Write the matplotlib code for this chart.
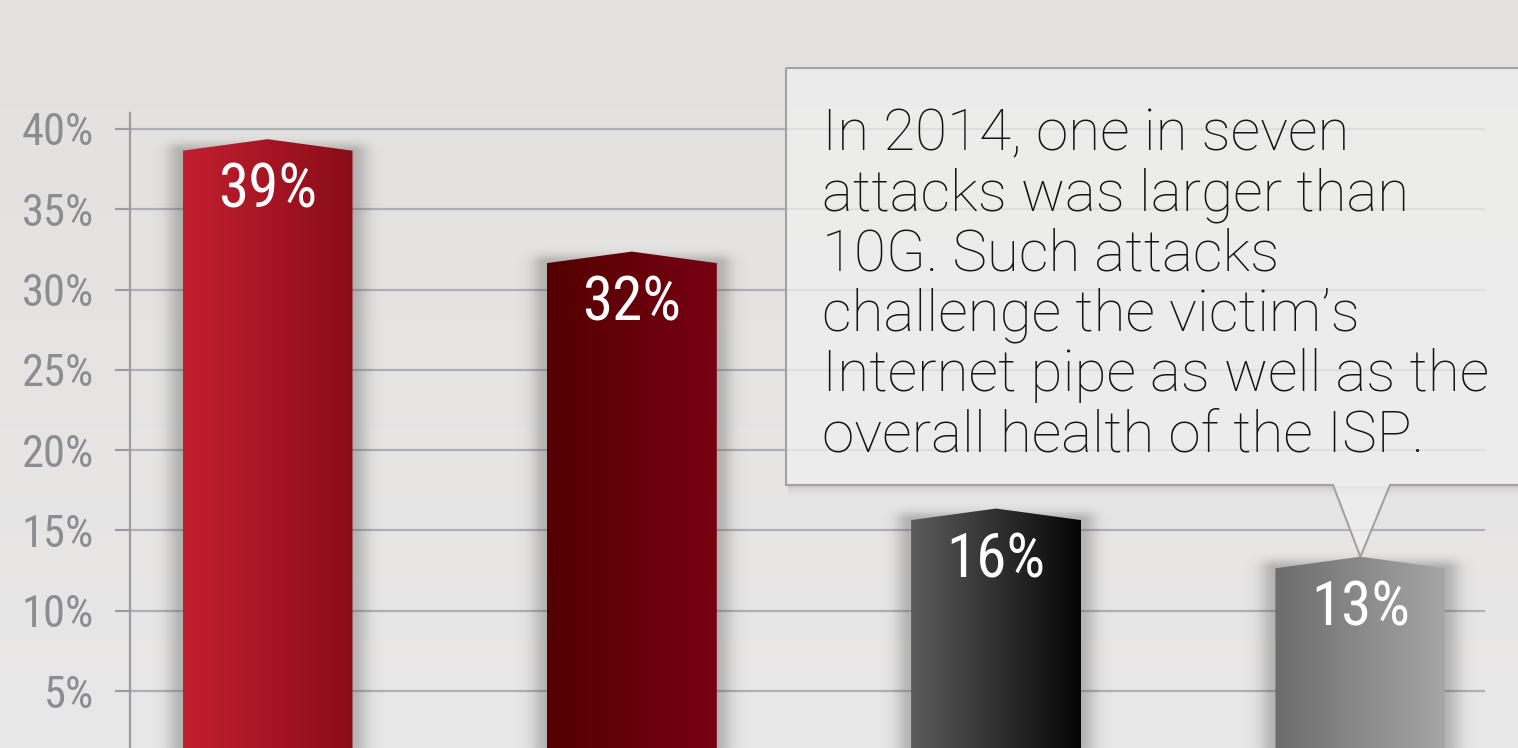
import numpy as np
import matplotlib
matplotlib.use("Agg")
import matplotlib.pyplot as plt
from matplotlib.patches import Polygon
from matplotlib.colors import LinearSegmentedColormap, to_rgb

# ---- data -------------------------------------------------------------
values = [39, 32, 16, 13]
value_labels = ["39%", "32%", "16%", "13%"]
bar_colors_left = ["#c21f2f", "#520002", "#5c5c5c", "#6c6c6c"]
bar_colors_right = ["#8a0c18", "#780010", "#050505", "#a6a6a6"]
ytick_values = [5, 10, 15, 20, 25, 30, 35, 40]
ytick_labels = ["5%", "10%", "15%", "20%", "25%", "30%", "35%", "40%"]
callout_lines = [
    "In 2014, one in seven",
    "attacks was larger than",
    "10G. Such attacks",
    "challenge the victim\u2019s",
    "Internet pipe as well as the",
    "overall health of the ISP.",
]

W, H = 1518, 748
DPI = 100
NARROW = ["Liberation Sans Narrow", "Roboto Condensed", "DejaVu Sans"]
LIGHT = ["Roboto", "Liberation Sans", "DejaVu Sans"]

fig = plt.figure(figsize=(W / DPI, H / DPI), dpi=DPI)

# soft grey page background
bg = fig.add_axes([0, 0, 1, 1], zorder=-10)
grad = np.linspace(0, 1, 256)[:, None]
top_c, bot_c = np.array(to_rgb("#e2e1df")), np.array(to_rgb("#e9e8e8"))
bg_img = top_c[None, None, :] * (1 - grad[..., None]) + bot_c[None, None, :] * grad[..., None]
bg.imshow(np.repeat(bg_img, 4, axis=1), aspect="auto", extent=[0, 1, 0, 1])
bg.set_axis_off()

# ---- main axes --------------------------------------------------------
ax_left, ax_right, ax_top = 130, 1485, 113
ax = fig.add_axes([ax_left / W, 0, (ax_right - ax_left) / W, (H - ax_top) / H], zorder=0)
ax.patch.set_alpha(0)

px_per_unit_y = 16.06
zero_px = 771.3
ybot = (zero_px - H) / px_per_unit_y
ytop = (zero_px - ax_top) / px_per_unit_y
px_per_unit_x = 364.3
xmin = -(267.5 - ax_left) / px_per_unit_x
xmax = xmin + (ax_right - ax_left) / px_per_unit_x

bar_width = 170 / px_per_unit_x
roof = 0.36  # half height of the pointed bar top

for s in ["top", "right", "bottom"]:
    ax.spines[s].set_visible(False)
ax.spines["left"].set_color("#9a9ca0")
ax.spines["left"].set_linewidth(1.6)

ax.set_yticks(ytick_values)
ax.set_yticklabels(ytick_labels)
ax.set_xticks([])
ax.tick_params(axis="y", length=10.8, width=1.5, color="#9a9ca0", pad=15,
               labelsize=32, labelcolor="#8b8d91")
for lab in ax.get_yticklabels():
    lab.set_fontfamily(NARROW)
ax.set_axisbelow(True)
ax.yaxis.grid(True, color="#aeb0b3", linewidth=1.6)

x_pos = np.arange(len(values))

for i, (xc, v) in enumerate(zip(x_pos, values)):
    x0, x1 = xc - bar_width / 2, xc + bar_width / 2

    # soft drop shadow around the bar, mostly along its sides
    pad_px = 40
    sx, sy = pad_px / px_per_unit_x, pad_px / px_per_unit_y
    nx, ny = 260, 400
    gx = np.linspace(-(bar_width / 2 + sx), bar_width / 2 + sx, nx) * px_per_unit_x
    gy = np.linspace(ybot, v + roof + sy, ny)
    GX, GY = np.meshgrid(gx, gy)
    half_w_px = bar_width / 2 * px_per_unit_x
    dx = np.clip(np.abs(GX) - half_w_px, 0, None)
    dy = np.clip((GY - (v - roof)) * px_per_unit_y, 0, None) * 1.8
    d = np.hypot(dx, dy)
    alpha = 0.32 * np.exp(-(d / 15.0) ** 2)
    shadow = np.zeros((ny, nx, 4))
    shadow[..., :3] = 0.28
    shadow[..., 3] = alpha
    ax.imshow(shadow, extent=[x0 - sx, x1 + sx, ybot, v + roof + sy],
              origin="lower", aspect="auto", zorder=1.5, interpolation="bilinear")

    # bar body with a pointed top, filled by a horizontal gradient
    verts = [(x0, ybot - 1), (x0, v - roof), (xc, v + roof), (x1, v - roof), (x1, ybot - 1)]
    poly = Polygon(verts, closed=True, facecolor="none", edgecolor="none", zorder=2)
    ax.add_patch(poly)
    cmap = LinearSegmentedColormap.from_list(f"bar{i}", [bar_colors_left[i], bar_colors_right[i]])
    im = ax.imshow(np.linspace(0, 1, 256)[None, :], cmap=cmap, aspect="auto",
                   extent=[x0, x1, ybot - 1, v + roof], zorder=2, interpolation="bilinear")
    im.set_clip_path(poly)

    ax.text(xc, v - 2.85, value_labels[i], ha="center", va="center", color="white",
            fontsize=44, family=NARROW, zorder=4)

ax.set_xlim(xmin, xmax)
ax.set_ylim(ybot, ytop)

# ---- callout box ------------------------------------------------------
fig.canvas.draw()
tip_disp = ax.transData.transform((x_pos[3], values[3] + roof))
tip_fig = fig.transFigure.inverted().transform(tip_disp)


def fpt(xp, yp):
    return (xp / W, 1 - yp / H)


box_l, box_t, box_r, box_b = 786, 68, 1540, 485
ptr_l, ptr_r = 1333, 1390
callout = [fpt(box_l, box_t), fpt(box_r, box_t), fpt(box_r, box_b), fpt(ptr_r, box_b),
           tuple(tip_fig), fpt(ptr_l, box_b), fpt(box_l, box_b)]

# faint shadow under the box
for k, a in enumerate([0.10, 0.07, 0.045, 0.025, 0.012]):
    sh = Polygon([fpt(box_l + 2, box_b + 1 + k * 2), fpt(box_r, box_b + 1 + k * 2),
                  fpt(box_r, box_b + 3 + k * 2), fpt(box_l + 2, box_b + 3 + k * 2)],
                 closed=True, transform=fig.transFigure, facecolor="black",
                 edgecolor="none", alpha=a, zorder=5)
    fig.patches.append(sh)

box = Polygon(callout, closed=True, transform=fig.transFigure, facecolor="#f0f0f0",
              edgecolor="none", alpha=0.72, zorder=6)
fig.patches.append(box)
edge = Polygon(callout, closed=True, transform=fig.transFigure, facecolor="none",
               edgecolor="#a2a2a2", linewidth=1.5, zorder=7)
fig.patches.append(edge)

line_x = 822
first_baseline = 150
line_step = 60.3
for k, line in enumerate(callout_lines):
    fx, fy = fpt(line_x, first_baseline + k * line_step)
    fig.text(fx, fy, line, ha="left", va="baseline", fontsize=42, family=LIGHT,
             fontweight="light", color="#141414", zorder=8)

fig.savefig("out.png", dpi=DPI)
